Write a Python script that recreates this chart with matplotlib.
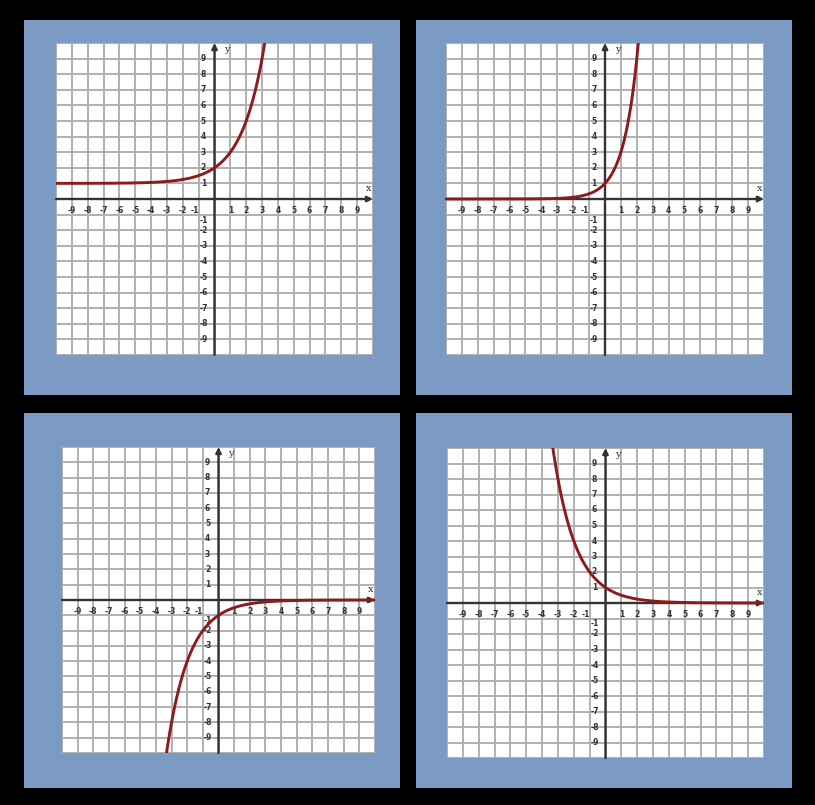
import numpy as np
import matplotlib.pyplot as plt

W, H = 815, 805

# curve parameters: y = sign * base**x + shift
bases = [2, 3, 0.5, 0.5]
signs = [1, 1, -1, 1]
shifts = [1, 0, 0, 0]

# tick labels
x_ticks = [-9, -8, -7, -6, -5, -4, -3, -2, -1, 1, 2, 3, 4, 5, 6, 7, 8, 9]
y_ticks = [9, 8, 7, 6, 5, 4, 3, 2, 1, -1, -2, -3, -4, -5, -6, -7, -8, -9]

# blue frames and white plot areas in pixels (left, top, right, bottom)
frames = [(24, 20, 400, 395), (416, 20, 792, 395),
          (24, 413, 400, 788), (416, 413, 792, 788)]
plots = [(56, 43, 373, 355), (446, 43, 764, 355),
         (62, 447, 375, 753), (447, 448, 764, 758)]


def px_rect(box):
    l, t, r, b = box
    return [l / W, 1 - b / H, (r - l) / W, (b - t) / H]


fig = plt.figure(figsize=(W / 100, H / 100), dpi=100, facecolor="black")

for fr in frames:
    bg = fig.add_axes(px_rect(fr))
    bg.set_facecolor("#7b9bc5")
    bg.set_xticks([])
    bg.set_yticks([])
    for s in bg.spines.values():
        s.set_visible(False)

xs = np.linspace(-10, 10, 801)
for i, box in enumerate(plots):
    ax = fig.add_axes(px_rect(box))
    ax.set_facecolor("white")
    ax.set_xlim(-10, 10)
    ax.set_ylim(-10, 10)
    for s in ax.spines.values():
        s.set_visible(False)
    ax.set_xticks([])
    ax.set_yticks([])

    # grid
    for g in range(-10, 11):
        ax.axvline(g, color="#b0b0b0", lw=1.4, zorder=1)
        ax.axhline(g, color="#b0b0b0", lw=1.4, zorder=1)

    # axes with arrows
    ax.annotate("", xy=(10, 0), xytext=(-10, 0),
                arrowprops=dict(arrowstyle="-|>", color="#333333", lw=1.7,
                                mutation_scale=8, shrinkA=0, shrinkB=0),
                zorder=3)
    ax.annotate("", xy=(0, 10), xytext=(0, -10),
                arrowprops=dict(arrowstyle="-|>", color="#333333", lw=1.7,
                                mutation_scale=8, shrinkA=0, shrinkB=0),
                zorder=3)

    for t in x_ticks:
        xpos = -1.25 if t == -1 else t
        ax.text(xpos, -0.75, str(t), ha="center", va="center", fontsize=5.5,
                fontweight="bold", color="#333333", zorder=4)
    for t in y_ticks:
        ypos = -1.35 if t == -1 else t
        ax.text(-0.7, ypos, str(t), ha="center", va="center", fontsize=5.5,
                fontweight="bold", color="#333333", zorder=4)
    ax.text(9.7, 0.7, "x", ha="center", va="center", fontsize=7,
            family="DejaVu Serif", color="#333333", zorder=4)
    ax.text(0.8, 9.6, "y", ha="center", va="center", fontsize=7,
            family="DejaVu Serif", color="#333333", zorder=4)

    ys = signs[i] * np.power(float(bases[i]), xs) + shifts[i]
    ys = np.where(np.abs(ys) > 12, np.nan, ys)
    ax.plot(xs, ys, color="#8e1b1b", lw=2.1, zorder=5, solid_capstyle="butt")

fig.savefig("out.png", dpi=100, facecolor="black")
